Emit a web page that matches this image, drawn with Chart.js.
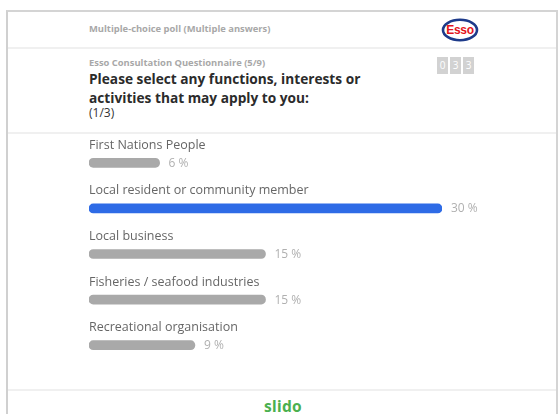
<!DOCTYPE html>
<html>
<head>
<meta charset="utf-8">
<script src="https://cdn.jsdelivr.net/npm/chart.js@4"></script>
<style>
  html, body { margin: 0; padding: 0; background: #fff; }
  body { width: 560px; height: 414px; position: relative; overflow: hidden; font-family: "Open Sans", sans-serif; }
  .frame { position: absolute; left: 6px; top: 10px; width: 552px; height: 410px; border-left: 2px solid #d0d0d0; border-top: 2px solid #d4d4d4; border-right: 2px solid #d4d4d4; box-sizing: border-box; }
  .hline { position: absolute; left: 8px; width: 548px; height: 2px; background: #f0f0f0; }
  .t { position: absolute; left: 89px; white-space: nowrap; }
  #chartWrap { position: absolute; left: 0; top: 0; width: 560px; height: 414px; }
  .box { position: absolute; top: 57px; width: 11px; height: 17px; background: #d2d2d2; color: #fff; font-size: 10px; line-height: 17px; text-align: center; }
</style>
</head>
<body>
<div class="frame"></div>
<div class="hline" style="top:47px"></div>
<div class="hline" style="top:132px"></div>
<div class="hline" style="top:389px"></div>

<div class="t" style="top:22px;font-size:9.4px;font-weight:700;color:#a8a8a8;">Multiple-choice poll (Multiple answers)</div>
<svg style="position:absolute;left:441px;top:18px" width="38" height="24" viewBox="0 0 38 24">
  <ellipse cx="19" cy="12" rx="17" ry="10.2" fill="#fff" stroke="#1d3a8a" stroke-width="2.6"/>
  <text x="19" y="16.3" text-anchor="middle" font-family="Liberation Sans, Arial, sans-serif" font-weight="700" font-size="12" fill="#e3131b" letter-spacing="-0.3">Esso</text>
</svg>

<div class="t" style="top:56px;font-size:9.4px;font-weight:700;color:#a8a8a8;">Esso Consultation Questionnaire (5/9)</div>
<div class="t" style="top:69px;font-size:13.7px;font-weight:700;color:#2b2b2b;line-height:19px;">Please select any functions, interests or<br>activities that may apply to you:</div>
<div class="t" style="top:104px;font-size:12px;color:#333;">(1/3)</div>
<div class="box" style="left:437px">0</div>
<div class="box" style="left:450px">3</div>
<div class="box" style="left:463px">3</div>

<div style="position:absolute;left:0;width:560px;top:395px;text-align:center;padding-left:6px;box-sizing:border-box;font-family:'Noto Sans',sans-serif;font-weight:700;font-size:15.5px;color:#4bb04f;letter-spacing:0.3px;">slido</div>

<div id="chartWrap"><canvas id="c" width="560" height="414"></canvas></div>

<script>
const categories = [
  "First Nations People",
  "Local resident or community member",
  "Local business",
  "Fisheries / seafood industries",
  "Recreational organisation"
];
const percentValues = [6, 30, 15, 15, 9];
const barColors = ["#a9a9a9", "#2e6be6", "#a9a9a9", "#a9a9a9", "#a9a9a9"];

const labelPlugin = {
  id: "pollLabels",
  afterDatasetsDraw(chart) {
    const ctx = chart.ctx;
    const meta = chart.getDatasetMeta(0);
    const xs = chart.scales.x;
    ctx.save();
    meta.data.forEach((bar, i) => {
      ctx.font = "12.5px 'Open Sans', sans-serif";
      ctx.fillStyle = "#666";
      ctx.textAlign = "left";
      ctx.textBaseline = "alphabetic";
      ctx.fillText(categories[i], xs.left, bar.y - 14);
      ctx.font = "12px 'Open Sans', sans-serif";
      ctx.fillStyle = "#b0b0b0";
      ctx.textBaseline = "middle";
      ctx.fillText(percentValues[i] + " %", bar.x + 9, bar.y + 0.5);
    });
    ctx.restore();
  }
};

new Chart(document.getElementById("c"), {
  type: "bar",
  data: {
    labels: categories,
    datasets: [{
      data: percentValues,
      backgroundColor: barColors,
      barThickness: 9,
      borderRadius: 5,
      borderSkipped: false
    }]
  },
  options: {
    indexAxis: "y",
    responsive: false,
    animation: false,
    layout: { padding: { left: 89, right: 118, top: 140, bottom: 46 } },
    plugins: { legend: { display: false }, tooltip: { enabled: false } },
    scales: {
      x: { display: false, min: 0, max: 30 },
      y: { display: false }
    }
  },
  plugins: [labelPlugin]
});
</script>
</body>
</html>
